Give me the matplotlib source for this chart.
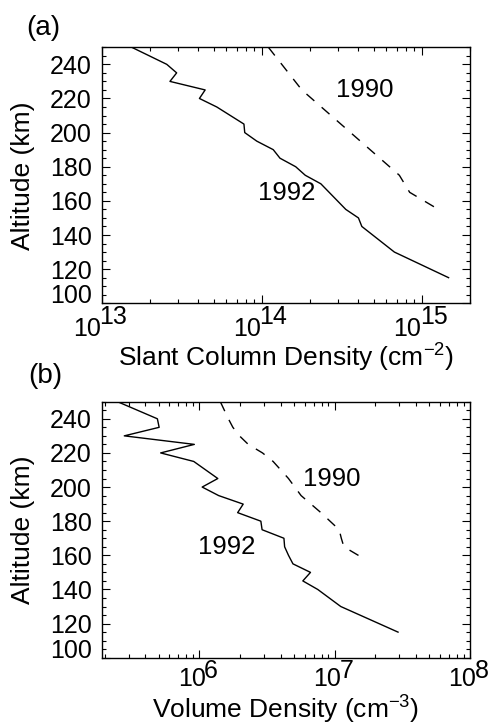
import numpy as np
import matplotlib
matplotlib.use('Agg')
import matplotlib.pyplot as plt
from matplotlib.ticker import LogLocator, NullFormatter, MultipleLocator

plt.rcParams['font.family'] = ['Liberation Sans', 'DejaVu Sans']
plt.rcParams['mathtext.fontset'] = 'custom'
plt.rcParams['mathtext.rm'] = 'Liberation Sans'
plt.rcParams['mathtext.it'] = 'Liberation Sans:italic'

# Slant column density profiles (cm^-2)
alt_a_1992 = [250, 240, 235, 230, 225, 220, 215, 205, 200, 195, 190, 185, 180,
              175, 170, 155, 150, 145, 130, 115]
scd_1992 = [1.54e13, 2.55e13, 2.94e13, 2.67e13, 4.43e13, 4.08e13, 5.24e13,
            7.74e13, 7.83e13, 9.31e13, 1.18e14, 1.30e14, 1.63e14, 1.87e14,
            2.34e14, 3.35e14, 4.02e14, 4.22e14, 6.74e14, 1.47e15]
alt_a_1990 = [250, 225, 175, 165, 155]
scd_1990 = [1.10e14, 1.78e14, 7.24e14, 8.40e14, 1.27e15]

# Volume density profiles (cm^-3)
alt_b_1992 = [250, 240, 235, 230, 225, 220, 215, 205, 200, 195, 190, 185, 180,
              175, 170, 165, 160, 155, 150, 145, 140, 130, 115]
vd_1992 = [2.49e5, 4.90e5, 5.05e5, 2.79e5, 9.19e5, 5.18e5, 9.10e5, 1.37e6,
           1.05e6, 1.39e6, 2.11e6, 1.92e6, 2.85e6, 2.91e6, 4.22e6, 4.27e6,
           4.56e6, 4.92e6, 6.63e6, 5.82e6, 7.50e6, 1.11e7, 2.94e7]
alt_b_1990 = [250, 240, 235, 230, 225, 220, 215, 205, 195, 185, 175, 170, 165,
              157.5]
vd_1990 = [1.43e6, 1.64e6, 1.77e6, 1.98e6, 2.30e6, 2.93e6, 3.51e6, 4.56e6,
           5.65e6, 7.92e6, 1.08e7, 1.12e7, 1.17e7, 1.69e7]

alt_ticks = [100, 120, 140, 160, 180, 200, 220, 240]
FS = 18


def power_labels(ax, exps, drop, fs=FS):
    # IDL-style "10^n" labels with a full-size exponent
    for e in exps:
        s = str(e)
        w10 = 1.0 * fs
        wexp = 0.556 * fs * len(s)
        gap = -0.06 * fs
        left = -(w10 + gap + wexp) / 2
        ax.annotate('10', xy=(10.0 ** e, 0), xycoords=('data', 'axes fraction'),
                    xytext=(left + w10, -drop), textcoords='offset points',
                    ha='right', va='top', fontsize=fs, annotation_clip=False)
        ax.annotate(s, xy=(10.0 ** e, 0), xycoords=('data', 'axes fraction'),
                    xytext=(left + w10 + gap, -1.0), textcoords='offset points',
                    ha='left', va='top', fontsize=fs, annotation_clip=False)


def style_axis(ax, xlim, exps, drop):
    ax.set_xscale('log')
    ax.set_xlim(*xlim)
    ax.set_ylim(100, 250)
    ax.set_xticks([10.0 ** e for e in exps], labels=[])
    ax.xaxis.set_minor_locator(LogLocator(base=10, subs=np.arange(2, 10)))
    ax.xaxis.set_minor_formatter(NullFormatter())
    ax.set_yticks(alt_ticks)
    ax.yaxis.set_minor_locator(MultipleLocator(5))
    ax.tick_params(which='both', direction='in', top=True, right=True,
                   width=0.8, color='black')
    ax.tick_params(which='major', length=6, pad=7, labelsize=FS)
    ax.tick_params(which='minor', length=3)
    for sp in ax.spines.values():
        sp.set_linewidth(1.0)
    ticks = ax.yaxis.get_major_ticks()
    ticks[0].label1.set_va('baseline')
    power_labels(ax, exps, drop)
    ax.set_ylabel('Altitude (km)', fontsize=19)
    ax.yaxis.set_label_coords(-0.181, 0.5)


fig = plt.figure(figsize=(4.91, 7.25), dpi=100)

ax1 = fig.add_axes([0.2071, 0.5817, 0.7501, 0.3531])
ax1.plot(scd_1992, alt_a_1992, color='black', lw=1.0)
ax1.plot(scd_1990, alt_a_1990, color='black', lw=1.0, dashes=(7.5, 7.0))
style_axis(ax1, (1e13, 2e15), [13, 14, 15], drop=10.0)
ax1.set_xlabel('Slant Column Density (cm$^{-2}$)', fontsize=19)
ax1.xaxis.set_label_coords(0.5, -0.152)
ax1.text(4.43e14, 225, '1990', fontsize=18.5, ha='center', va='center')
ax1.text(1.43e14, 164.9, '1992', fontsize=18.5, ha='center', va='center')
fig.text(43 / 491, 1 - 28 / 725, '(a)', fontsize=20, ha='center', va='center')

ax2 = fig.add_axes([0.2071, 0.0928, 0.7501, 0.3531])
ax2.plot(vd_1992, alt_b_1992, color='black', lw=1.0)
ax2.plot(vd_1990, alt_b_1990, color='black', lw=1.0, dashes=(7.5, 7.0))
style_axis(ax2, (1.9e5, 1e8), [6, 7, 8], drop=7.0)
ax2.set_xlabel('Volume Density (cm$^{-3}$)', fontsize=19)
ax2.xaxis.set_label_coords(0.5, -0.140)
ax2.text(9.5e6, 204.5, '1990', fontsize=18.5, ha='center', va='center')
ax2.text(1.6e6, 164.6, '1992', fontsize=18.5, ha='center', va='center')
fig.text(45 / 491, 1 - 376 / 725, '(b)', fontsize=20, ha='center', va='center')

fig.savefig('out.png', dpi=100)
